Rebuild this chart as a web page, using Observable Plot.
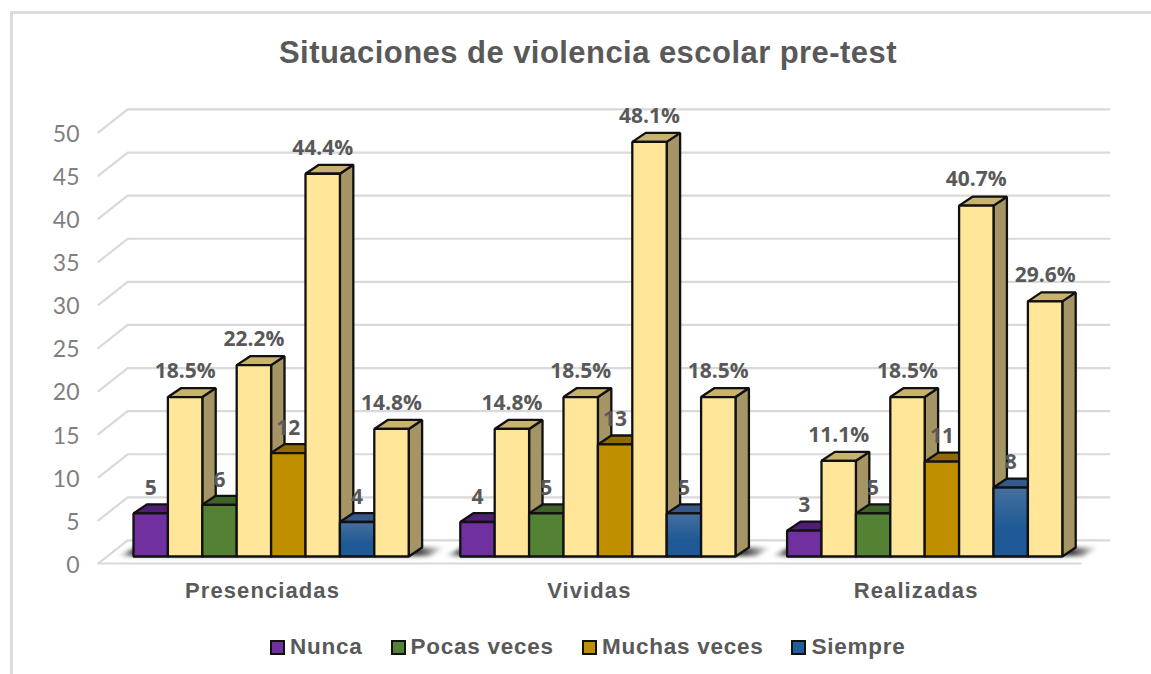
<!DOCTYPE html>
<html><head><meta charset="utf-8">
<script src="https://cdn.jsdelivr.net/npm/d3@7"></script>
<script src="https://cdn.jsdelivr.net/npm/@observablehq/plot@0.6"></script>
<style>
html,body{margin:0;padding:0;background:#fff;}
#page{position:relative;width:1151px;height:674px;overflow:hidden;}
#frame{position:absolute;left:10px;top:11px;width:1200px;height:700px;border-left:3px solid #dcdcdc;border-top:3px solid #dcdcdc;box-sizing:border-box;}
#title{position:absolute;left:0;top:31px;width:1176px;text-align:center;font:bold 31px "Liberation Sans",sans-serif;color:#595959;letter-spacing:.45px;line-height:44px;height:44px;}
#chart{position:absolute;left:0;top:90px;}
#legend{position:absolute;left:270px;top:632px;display:flex;font:bold 22.5px "Liberation Sans",sans-serif;color:#595959;line-height:30px;letter-spacing:.75px;white-space:nowrap;}
#legend span.i{display:flex;align-items:center;margin-right:28px;}
#legend span.k{display:inline-block;width:11px;height:11px;border:2px solid #111;margin-right:5px;}
</style></head><body>
<div id="page"><div id="frame"></div><div id="title"></div><div id="chart"></div><div id="legend"></div></div>
<script>
const titleText = "Situaciones de violencia escolar pre-test";
const categories = ["Presenciadas","Vividas","Realizadas"];
const seriesNames = ["Nunca","Pocas veces","Muchas veces","Siempre"];
const counts = [[5,6,12,4],[4,5,13,5],[3,5,11,8]];
const percents = [[18.5,22.2,44.4,14.8],[14.8,18.5,48.1,18.5],[11.1,18.5,40.7,29.6]];
const yTicks = [0,5,10,15,20,25,30,35,40,45,50];
const frontFill = ["#7030a0","#548235","#bf8f00","url(#blueFace)"];
const topFill = ["#4f1f78","#3e6227","#8f6b00","#37588a"];
const legendFill = ["#7030a0","#548235","#bf8f00","#1f5f9e"];
const pctFront = "#ffe699", pctTop = "#c8b26e", pctSide = "#a59565";
const groupStep = 9.5, depthX = 0.39, depthY = 1.04;
const wallFrontX = -1.02, wallBackX = -0.17, wallRightX = 28.37, floorRightX = 27.53;
const wallFrontY = -0.81, wallBackY = 1.86;
const shadowFill = "url(#floorShadow)";
const polys = [];
function addBar(id, slot, v, front, top, side){
  const x0 = slot, x1 = slot + 1;
  const poly = (name, pts, fill) => pts.forEach(([x,y]) => polys.push({id:id+name, x, y, fill}));
  poly("s", [[x1,0],[x1+depthX,depthY],[x1+depthX,v+depthY],[x1,v]], side);
  poly("t", [[x0,v],[x0+depthX,v+depthY],[x1+depthX,v+depthY],[x1,v]], top);
  poly("f", [[x0,0],[x0,v],[x1,v],[x1,0]], front);
}
const countLabels = [], pctLabels = [], catLabels = [], shadows = [];
categories.forEach((c,g) => {
  const s0 = g*groupStep;
  catLabels.push({x:s0+3.75, y:0, c});
  [[-0.45,0.05],[0.05,depthY],[9.05,depthY],[8.6,0.05]].forEach(([dx,y]) => shadows.push({id:"sh"+g,x:s0+dx,y,fill:shadowFill}));
  counts[g].forEach((v,i) => {
    const a = s0+2*i, b = a+1, p = percents[g][i];
    addBar(`c${g}${i}`, a, v, frontFill[i], topFill[i], topFill[i]);
    addBar(`p${g}${i}`, b, p, pctFront, pctTop, pctSide);
    countLabels.push({x:a+0.5, y:v, t:String(v)});
    pctLabels.push({x:b+0.5, y:p, t:p.toFixed(1)+"%"});
  });
});
const gridPaths = yTicks.flatMap(v => [
  {id:v,x:wallFrontX,y:v+wallFrontY},
  {id:v,x:wallBackX,y:v+wallBackY},
  {id:v,x:wallRightX,y:v+wallBackY}
]);
const floorFront = [{x:wallFrontX,y:wallFrontY},{x:floorRightX,y:wallFrontY}];
function defs(){
  const svg = d3.create("svg:defs");
  const g = svg.append("linearGradient").attr("id","blueFace").attr("x1",0).attr("y1",0).attr("x2",0).attr("y2",1);
  g.append("stop").attr("offset","0%").attr("stop-color","#46709f");
  g.append("stop").attr("offset","60%").attr("stop-color","#1f5a96");
  g.append("stop").attr("offset","100%").attr("stop-color","#1f5a96");
  const s = svg.append("linearGradient").attr("id","floorShadow").attr("x1",0).attr("y1",0).attr("x2",1).attr("y2",0);
  s.append("stop").attr("offset","0%").attr("stop-color","#2a2a2a").attr("stop-opacity",0);
  s.append("stop").attr("offset","4.5%").attr("stop-color","#2a2a2a").attr("stop-opacity",.85);
  s.append("stop").attr("offset","92%").attr("stop-color","#2a2a2a").attr("stop-opacity",.9);
  s.append("stop").attr("offset","100%").attr("stop-color","#2a2a2a").attr("stop-opacity",0);
  return svg.node();
}
const labelFont = {fontFamily:"'Open Sans',sans-serif",fontWeight:700,fontSize:21,fill:"#595959"};
const chart = Plot.plot({
  width:1151, height:530, margin:0, marginLeft:79,
  style:{background:"transparent",overflow:"visible"},
  x:{domain:[0,1],range:[133,167.4],axis:null},
  y:{domain:[0,50],range:[466,35],axis:null},
  color:{type:"identity"},
  marks:[
    defs,
    Plot.line(gridPaths,{x:"x",y:"y",z:"id",stroke:"#d9d9d9",strokeWidth:2.2}),
    Plot.line(floorFront,{x:"x",y:"y",stroke:"#d9d9d9",strokeWidth:2.2}),
    Plot.line(shadows,{x:"x",y:"y",z:"id",fill:"fill",stroke:"none",curve:"linear-closed",imageFilter:"blur(2px)"}),
    Plot.line(polys,{x:"x",y:"y",z:"id",fill:"fill",stroke:"#111",strokeWidth:2.3,curve:"linear-closed",strokeLinejoin:"miter"}),
    Plot.axisY(yTicks,{anchor:"left",tickSize:0,tickPadding:0,label:null,dy:9,
      fontFamily:"Lato,sans-serif",fontSize:23,fill:"#7f7f7f",color:"#7f7f7f",tickFormat:d=>String(d)}),
    Plot.text(countLabels,{x:"x",y:"y",text:"t",dy:-25,...labelFont}),
    Plot.text(pctLabels,{x:"x",y:"y",text:"t",dy:-26,...labelFont}),
    Plot.text(catLabels,{x:"x",y:"y",text:"c",dy:34,fontFamily:"'Liberation Sans',sans-serif",fontWeight:700,fontSize:22,fill:"#595959"})
  ]
});
document.getElementById("chart").appendChild(chart);
const textGroups = chart.querySelectorAll('g[aria-label="text"]');
textGroups[textGroups.length-1].style.letterSpacing = "1.1px";
document.getElementById("title").textContent = titleText;
const lg = document.getElementById("legend");
seriesNames.forEach((n,i)=>{
  const s=document.createElement("span"); s.className="i";
  const k=document.createElement("span"); k.className="k"; k.style.background=legendFill[i];
  s.appendChild(k); s.appendChild(document.createTextNode(n)); lg.appendChild(s);
});
</script></body></html>
